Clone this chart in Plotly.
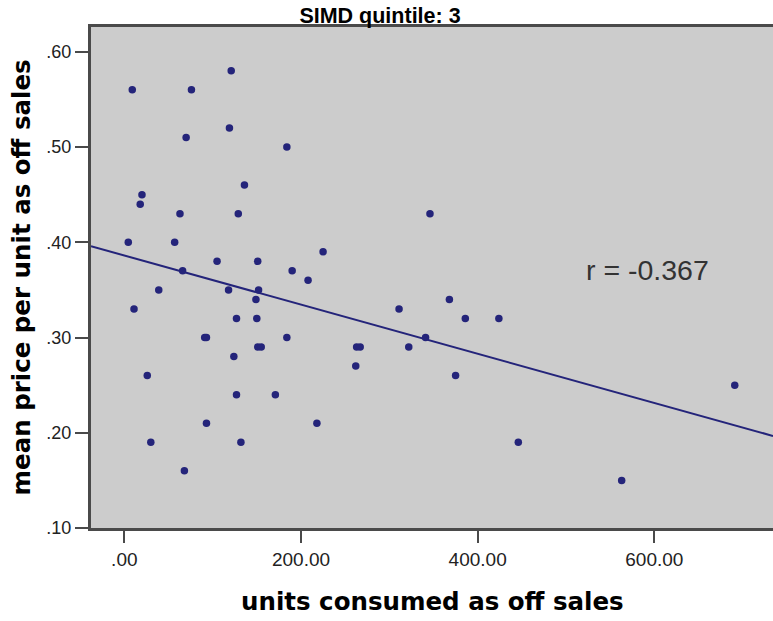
import plotly.graph_objects as go

# ---- data ----
units = [9, 76, 121, 119, 70, 184, 136, 20, 18, 63, 129, 4.5, 57, 225, 105, 151,
         66, 190, 208, 39, 118, 152, 149, 11, 127, 150, 91, 93, 184, 151, 155,
         263, 267, 124, 262, 26, 127, 171, 93, 218, 30, 132, 68,
         346, 311, 368, 386, 424, 341, 322, 375, 446, 563, 691]
price = [0.56, 0.56, 0.58, 0.52, 0.51, 0.50, 0.46, 0.45, 0.44, 0.43, 0.43, 0.40,
         0.40, 0.39, 0.38, 0.38, 0.37, 0.37, 0.36, 0.35, 0.35, 0.35, 0.34, 0.33,
         0.32, 0.32, 0.30, 0.30, 0.30, 0.29, 0.29, 0.29, 0.29, 0.28, 0.27, 0.26,
         0.24, 0.24, 0.21, 0.21, 0.19, 0.19, 0.16,
         0.43, 0.33, 0.34, 0.32, 0.32, 0.30, 0.29, 0.26, 0.19, 0.15, 0.25]

fit_intercept = 0.3861
fit_slope = -0.000258
r_text = "r = -0.367"

x_tickvals = [0, 200, 400, 600]
x_ticktext = [".00", "200.00", "400.00", "600.00"]
y_tickvals = [0.10, 0.20, 0.30, 0.40, 0.50, 0.60]
y_ticktext = [".10", ".20", ".30", ".40", ".50", ".60"]

x_range = [-37.7, 734.3]
y_range = [0.10, 0.626]

title_text = "SIMD quintile: 3"
x_title = "units consumed as off sales"
y_title = "mean price per unit as off sales"

navy = "#24247a"
axis_col = "#4a4a4a"

fit_x = x_range
fit_y = [fit_intercept + fit_slope * v for v in fit_x]

W, H = 773, 621
ML, MT = 91, 27
PW, PH = 682, 501

fig = go.Figure()
fig.add_trace(go.Scatter(x=fit_x, y=fit_y, mode="lines",
                         line=dict(color=navy, width=2), hoverinfo="skip"))
fig.add_trace(go.Scatter(x=units, y=price, mode="markers",
                         marker=dict(color=navy, size=7.5, line=dict(width=0))))

fig.update_layout(
    width=W, height=H,
    margin=dict(l=ML, r=W - ML - PW, t=MT, b=H - MT - PH, pad=0),
    paper_bgcolor="white", plot_bgcolor="#cccccc",
    showlegend=False,
    font=dict(family="Liberation Sans, Arial, sans-serif", color="#222222"),
    title=dict(text="<b>" + title_text + "</b>", x=380 / W, xanchor="center",
               y=1 - 15 / H, yanchor="middle", yref="container",
               font=dict(size=21.5, family="Liberation Sans, Arial, sans-serif", color="black")),
    xaxis=dict(range=x_range, tickvals=x_tickvals, ticktext=x_ticktext,
               showgrid=False, zeroline=False, showline=True, linecolor=axis_col,
               linewidth=3, mirror=True, ticks="outside", ticklen=12, tickwidth=2,
               tickcolor=axis_col, tickfont=dict(size=19, color="#222222")),
    yaxis=dict(range=y_range, tickvals=y_tickvals, ticktext=y_ticktext,
               showgrid=False, zeroline=False, showline=True, linecolor=axis_col,
               linewidth=3, mirror=False, ticks="outside", ticklen=13, tickwidth=2,
               tickcolor=axis_col, tickfont=dict(size=18, color="#222222")),
    annotations=[
        dict(text="<b>" + x_title + "</b>", xref="paper", yref="paper",
             x=0.5, y=(528 - 601) / PH, xanchor="center", yanchor="middle",
             showarrow=False, font=dict(size=24.5, family="DejaVu Sans", color="black")),
        dict(text="<b>" + y_title + "</b>", xref="paper", yref="paper",
             x=(21 - 91) / PW, y=0.5, xanchor="center", yanchor="middle",
             textangle=-90, showarrow=False,
             font=dict(size=24.5, family="DejaVu Sans", color="black")),
        dict(text=r_text, xref="x", yref="y", x=591.7, y=0.371,
             xanchor="center", yanchor="middle", showarrow=False,
             font=dict(size=28.5, family="Liberation Sans, Arial, sans-serif", color="#333333")),
    ],
)

# remove the default 8px page margin so the figure fills the 773x621 window
fig.write_html("out.html",
               config={"displayModeBar": False},
               post_script="document.body.style.margin='0';"
                           "document.body.style.overflow='hidden';")
